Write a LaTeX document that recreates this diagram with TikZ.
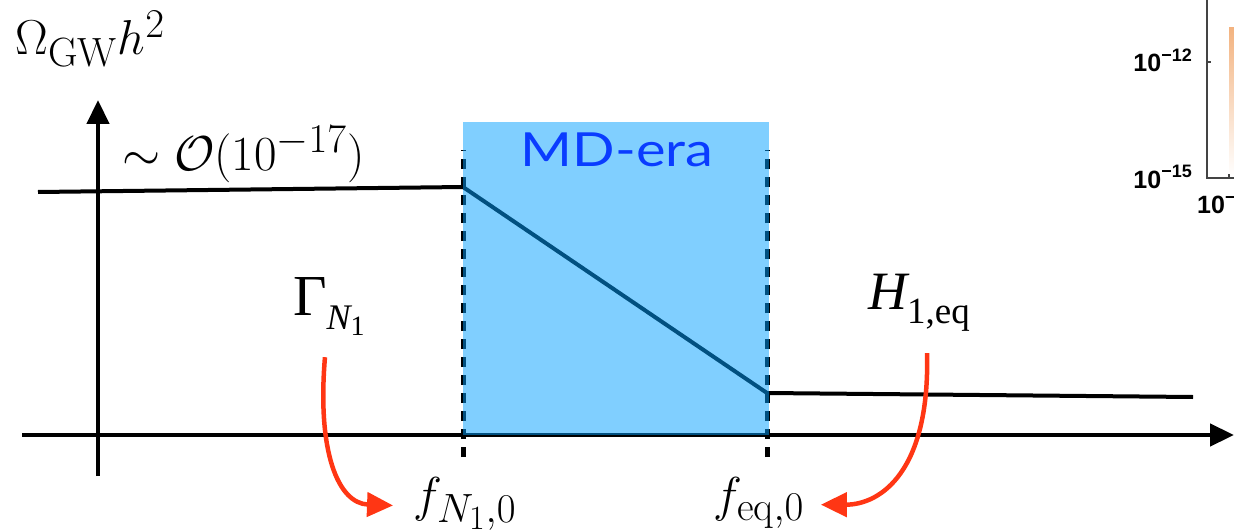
\documentclass[tikz,border=0pt]{standalone}
\usepackage{amsmath}
\usepackage{fontspec}
\usepackage{xcolor}
\usepackage{tikz}
\usetikzlibrary{arrows.meta}
\newfontfamily\timesfont{Liberation Serif}
\newfontfamily\erafont{Lato}
\newfontfamily\plotfont{Liberation Sans}
\definecolor{erablue}{HTML}{0A3CFF}
\definecolor{erafill}{HTML}{02A0FF}
\definecolor{arrowred}{HTML}{FF3614}
\definecolor{plotorange}{HTML}{F0A060}
\definecolor{plotgray}{HTML}{444444}

\begin{document}
\begin{tikzpicture}[x=1pt, y=-1pt,
    axisline/.style={line width=4.5pt, -{Triangle[length=24pt,width=22pt]}},
    spectrum/.style={line width=4pt, line join=round},
    eraline/.style={line width=5pt, dash pattern=on 10pt off 8pt},
    redarrow/.style={arrowred, line width=4.5pt, -{Triangle[length=26pt,width=24pt]}},
    cmlabel/.style={inner sep=0pt, font=\Huge, scale=1.97},
    plotaxis/.style={plotgray, line width=1.5pt},
    plotlabel/.style={inner sep=0pt, font=\plotfont\bfseries\fontsize{25}{28}\selectfont}]
    \useasboundingbox (0,0) rectangle (1234,532);
    % axes
    \draw[axisline] (98,476) -- (98,100);
    \draw[axisline] (22,435) -- (1234,435);
    % spectrum
    \draw[spectrum] (38,192) -- (463,187) -- (767,393) -- (1193,397);
    % era boundaries
    \draw[eraline] (463,457) -- (463,150);
    \draw[eraline] (767,457) -- (767,150);
    \fill[erafill, fill opacity=0.5] (463,122) rectangle (769,435);
    \node[inner sep=0pt, anchor=base, erablue, xscale=1.19, font=\erafont\fontsize{47}{50}\selectfont] (era) at (617,167) {MD-era};
    % labels
    \node[cmlabel, anchor=base west] (omega) at (15,55) {$\Omega_{\mathrm{GW}}h^2$};
    \node[cmlabel, anchor=base west] (level) at (122,170) {$\sim\mathcal{O}(10^{-17})$};
    \node[inner sep=0pt, anchor=base west, font=\timesfont\fontsize{58}{60}\selectfont] (gamma) at (293,315)
      {Γ\raisebox{-14pt}{\fontsize{36}{38}\selectfont\itshape N\raisebox{-6pt}{\upshape\fontsize{28}{30}\selectfont 1}}};
    \node[inner sep=0pt, anchor=base west, font=\timesfont\fontsize{54}{56}\selectfont] (hubble) at (868,309)
      {\itshape H\raisebox{-14pt}{\upshape\fontsize{37}{38}\selectfont 1,eq}};
    \node[cmlabel, anchor=base] (fN) at (465,511) {$f_{N_1,0}$};
    \node[cmlabel, anchor=base] (feq) at (759,511) {$f_{\mathrm{eq},0}$};
    % red arrows
    \draw[redarrow] ([xshift=-4pt, yshift=-22pt]gamma.south) .. controls +(-8,95) and +(-55,-2) .. ([xshift=-20pt, yshift=-2pt]fN.west);
    \draw[redarrow] ([xshift=8pt, yshift=-22pt]hubble.south) .. controls +(3,118) and +(60,0) .. ([xshift=16pt, yshift=-2pt]feq.east);
    % piece of the neighbouring plot
    \shade[top color=plotorange!80, bottom color=white] (1229,28) rectangle (1236,176);
    \draw[plotaxis] (1207,-2) -- (1207,178) -- (1236,178);
    \draw[plotaxis] (1207,62) -- (1211,62);
    \draw[plotaxis] (1229,178) -- (1229,174);
    \node[plotlabel, anchor=base east] (tick12) at (1192,72) {10\raisebox{10pt}{\fontsize{18}{18}\selectfont −12}};
    \node[plotlabel, anchor=base east] (tick15) at (1192,188) {10\raisebox{10pt}{\fontsize{18}{18}\selectfont −15}};
    \node[plotlabel, anchor=base west] (tickx) at (1197,213) {10\raisebox{10pt}{\fontsize{18}{18}\selectfont −}};
\end{tikzpicture}
\end{document}
